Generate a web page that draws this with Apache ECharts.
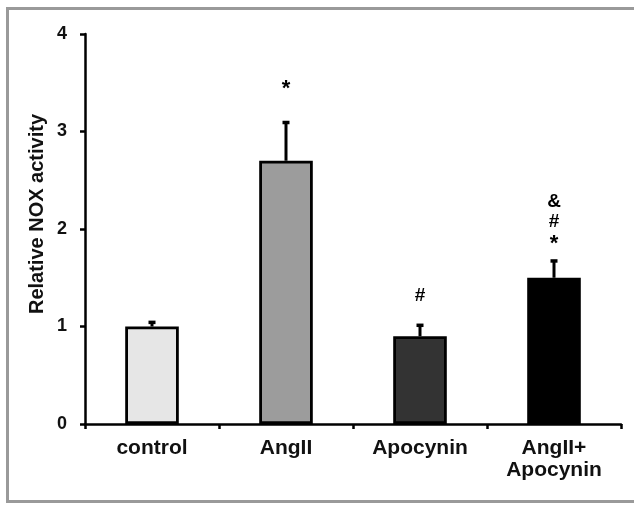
<!DOCTYPE html>
<html>
<head>
<meta charset="utf-8">
<script src="https://cdn.jsdelivr.net/npm/echarts@6/dist/echarts.min.js"></script>
<style>
  html, body { margin: 0; padding: 0; background: #fff; }
  #chart { width: 634px; height: 506px; }
</style>
</head>
<body>
<div id="chart"></div>
<script>
// data
const categories = ['control', 'AngII', 'Apocynin', 'AngII+\nApocynin'];
const means = [1.0, 2.7, 0.9, 1.5];
const errTops = [1.05, 3.1, 1.02, 1.68];
const barColors = ['#e6e6e6', '#9c9c9c', '#333333', '#000000'];
const yTicks = [0, 1, 2, 3, 4];

// significance marks: category index, value position, symbol
const sigCat = [1, 2, 3, 3, 3];
const sigVal = [3.44, 1.32, 1.85, 2.07, 2.28];
const sigText = ['*', '#', '*', '#', '&'];

const chart = echarts.init(document.getElementById('chart'));
const font = 'Liberation Sans, Arial, sans-serif';

chart.setOption({
    animation: false,
    grid: {left: 85, right: 13, top: 34, bottom: 82},
    graphic: [
        {
            type: 'rect',
            shape: {x: 7.5, y: 8.5, width: 700, height: 493},
            style: {fill: 'none', stroke: '#9a9a9a', lineWidth: 3}
        },
        {
            type: 'text',
            x: 37, y: 214,
            rotation: Math.PI / 2,
            style: {
                text: 'Relative NOX activity',
                font: 'bold 20px ' + font,
                fill: '#111',
                textAlign: 'center',
                textVerticalAlign: 'middle'
            }
        }
    ],
    xAxis: {
        type: 'category',
        data: categories,
        axisLine: {lineStyle: {color: '#000', width: 2.5}},
        axisTick: {show: true, length: 5, lineStyle: {color: '#000', width: 2.5}},
        axisLabel: {
            margin: 13,
            color: '#111',
            fontFamily: font,
            fontWeight: 'bold',
            fontSize: 21,
            lineHeight: 22
        }
    },
    yAxis: {
        type: 'value',
        min: yTicks[0],
        max: yTicks[yTicks.length - 1],
        interval: 1,
        splitLine: {show: false},
        axisLine: {show: true, lineStyle: {color: '#000', width: 2.5}},
        axisTick: {show: true, length: 5, lineStyle: {color: '#000', width: 2.5}},
        axisLabel: {
            margin: 18,
            color: '#111',
            fontFamily: font,
            fontWeight: 'bold',
            fontSize: 18
        }
    },
    series: [
        {
            type: 'bar',
            barWidth: '40%',
            data: means.map((v, i) => ({
                value: v,
                itemStyle: {color: barColors[i], borderColor: '#000', borderWidth: 2.8}
            })),
            z: 3
        },
        {
            // upward error bars
            type: 'custom',
            z: 2,
            data: means.map((v, i) => [i, v, errTops[i]]),
            renderItem: function (params, api) {
                const base = api.coord([api.value(0), api.value(1)]);
                const top = api.coord([api.value(0), api.value(2)]);
                return {
                    type: 'group',
                    children: [
                        {
                            type: 'line',
                            shape: {x1: base[0], y1: base[1], x2: top[0], y2: top[1]},
                            style: {stroke: '#000', lineWidth: 3}
                        },
                        {
                            type: 'rect',
                            shape: {x: top[0] - 3.5, y: top[1] - 1, width: 7, height: 3.5},
                            style: {fill: '#000'}
                        }
                    ]
                };
            }
        },
        {
            // significance symbols
            type: 'custom',
            z: 4,
            data: sigCat.map((c, i) => [c, sigVal[i], i]),
            renderItem: function (params, api) {
                const p = api.coord([api.value(0), api.value(1)]);
                const t = sigText[api.value(2)];
                return {
                    type: 'text',
                    x: p[0], y: p[1],
                    style: {
                        text: t,
                        font: 'bold ' + (t === '*' ? 22 : 19) + 'px ' + font,
                        fill: '#000',
                        textAlign: 'center',
                        textVerticalAlign: 'middle'
                    }
                };
            }
        }
    ]
});
</script>
</body>
</html>
